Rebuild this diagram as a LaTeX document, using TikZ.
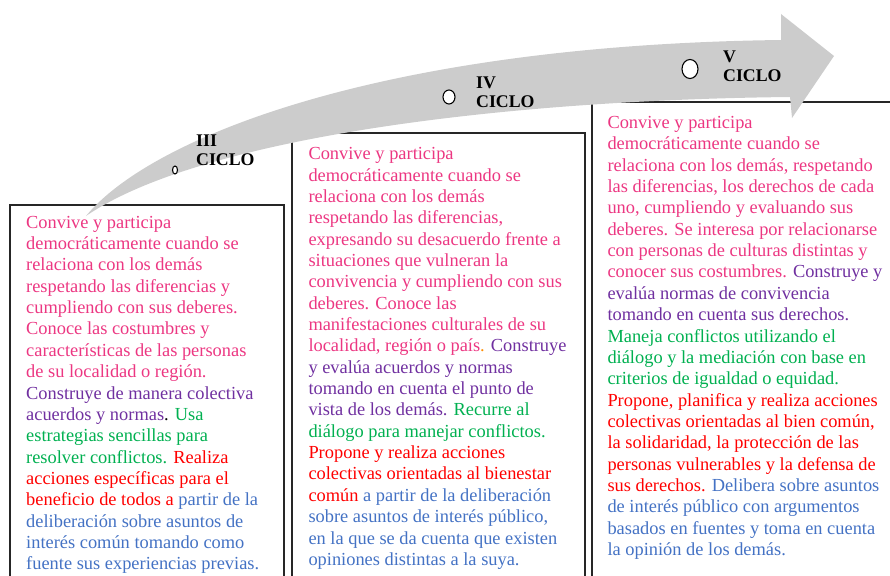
\documentclass[tikz,border=0pt]{standalone}
\usepackage{fontspec}
\setmainfont{Liberation Serif}
\usetikzlibrary{shapes.geometric}
\definecolor{pinkT}{RGB}{236,55,130}
\definecolor{purpleT}{RGB}{112,48,160}
\definecolor{greenT}{RGB}{0,176,80}
\definecolor{redT}{RGB}{255,0,0}
\definecolor{blueT}{RGB}{68,114,196}
\definecolor{orangeT}{RGB}{255,140,0}
\definecolor{arrowgray}{RGB}{204,204,204}
\begin{document}
\begin{tikzpicture}[x=1pt,y=-1pt,
  boxline/.style={draw=black!85, line width=1.3pt},
  boxtext/.style={anchor=north west, inner sep=0pt, align=left, font=\fontsize{18.4}{21.35}\selectfont},
  cyclabel/.style={anchor=north west, inner sep=0pt, align=left, font=\bfseries\fontsize{17.8}{19}\selectfont},
  marker/.style={ellipse, draw=black, line width=1.1pt, fill=white, inner sep=0pt}
]
\useasboundingbox (0,0) rectangle (890,575);
% boxes
\coordinate (b1bl) at (10,585);
\coordinate (b1tl) at (10,205);
\coordinate (b1tr) at (284,205);
\coordinate (b1br) at (284,585);
\draw[boxline] (b1bl) -- (b1tl) -- (b1tr) -- (b1br);
\coordinate (b2bl) at (292,585);
\coordinate (b2tl) at (292,133);
\coordinate (b2tr) at (585,133);
\coordinate (b2br) at (585,585);
\draw[boxline] (b2bl) -- (b2tl) -- (b2tr) -- (b2br);
\coordinate (b3bl) at (592,585);
\coordinate (b3tl) at (592,102);
\coordinate (b3tr) at (895,102);
\draw[boxline] (b3bl) -- (b3tl) -- (b3tr);
% arrow
\fill[arrowgray] (86,216) .. controls (150,138) and (380,45) .. (781,40)
  -- (781,14) -- (834,56) -- (792,118) -- (790,97)
  .. controls (500,100) and (200,138) .. (86,216) -- cycle;
% markers and labels
\node[marker, minimum width=5pt, minimum height=8pt] (m3) at (175,170) {};
\node[marker, minimum width=12pt, minimum height=14pt] (m4) at (449,97) {};
\node[marker, minimum width=16pt, minimum height=19pt] (m5) at (690,69) {};
\node[cyclabel] (l3) at (196,132) {\rule{0pt}{14pt}III\\CICLO};
\node[cyclabel] (l4) at (476,74) {\rule{0pt}{14pt}IV\\CICLO};
\node[cyclabel] (l5) at (723,48) {\rule{0pt}{14pt}V\\CICLO};
% texts
\node[boxtext] (t1) at (26,214) {\rule{0pt}{14pt}\color{pinkT}Convive y participa\\
\color{pinkT}democráticamente  cuando se\\
\color{pinkT}relaciona con los demás\\
\color{pinkT}respetando las diferencias y\\
\color{pinkT}cumpliendo con sus deberes.\\
\color{pinkT}Conoce las costumbres y\\
\color{pinkT}características de las personas\\
\color{pinkT}de su localidad o región.\\
\color{purpleT}Construye de manera colectiva\\
\color{purpleT}acuerdos y normas\color{black}. \color{greenT}Usa\\
\color{greenT}estrategias sencillas para\\
\color{greenT}resolver conflictos. \color{redT}Realiza\\
\color{redT}acciones específicas para el\\
\color{redT}beneficio de todos a \color{blueT}partir de la\\
\color{blueT}deliberación sobre asuntos de\\
\color{blueT}interés común tomando como\\
\color{blueT}fuente sus experiencias previas.};
\node[boxtext] (t2) at (308.3,145.5) {\rule{0pt}{14pt}\color{pinkT}Convive y participa\\
\color{pinkT}democráticamente  cuando se\\
\color{pinkT}relaciona con los demás\\
\color{pinkT}respetando las diferencias,\\
\color{pinkT}expresando su desacuerdo frente a\\
\color{pinkT}situaciones que vulneran la\\
\color{pinkT}convivencia y cumpliendo con sus\\
\color{pinkT}deberes. Conoce las\\
\color{pinkT}manifestaciones culturales de su\\
\color{pinkT}localidad, región o país\color{orangeT}. \color{purpleT}Construye\\
\color{purpleT}y evalúa acuerdos y normas\\
\color{purpleT}tomando en cuenta el punto de\\
\color{purpleT}vista de los demás. \color{greenT}Recurre al\\
\color{greenT}diálogo para manejar conflictos.\\
\color{redT}Propone y realiza acciones\\
\color{redT}colectivas orientadas al bienestar\\
\color{redT}común \color{blueT}a partir de la deliberación\\
\color{blueT}sobre asuntos de interés público,\\
\color{blueT}en la que se da cuenta que existen\\
\color{blueT}opiniones distintas a la suya.};
\node[boxtext] (t3) at (607.3,114.3) {\rule{0pt}{14pt}\color{pinkT}Convive y participa\\
\color{pinkT}democráticamente  cuando se\\
\color{pinkT}relaciona con los demás, respetando\\
\color{pinkT}las diferencias, los derechos de cada\\
\color{pinkT}uno, cumpliendo y evaluando sus\\
\color{pinkT}deberes. Se interesa por relacionarse\\
\color{pinkT}con personas de culturas distintas y\\
\color{pinkT}conocer sus costumbres. \color{purpleT}Construye y\\
\color{purpleT}evalúa normas de convivencia\\
\color{purpleT}tomando en cuenta sus derechos.\\
\color{greenT}Maneja conflictos utilizando el\\
\color{greenT}diálogo y la mediación con base en\\
\color{greenT}criterios de igualdad o equidad.\\
\color{redT}Propone, planifica y realiza acciones\\
\color{redT}colectivas orientadas al bien común,\\
\color{redT}la solidaridad, la protección de las\\
\color{redT}personas vulnerables y la defensa de\\
\color{redT}sus derechos. \color{blueT}Delibera sobre asuntos\\
\color{blueT}de interés público con argumentos\\
\color{blueT}basados en fuentes y toma en cuenta\\
\color{blueT}la opinión de los demás.};
\end{tikzpicture}
\end{document}
